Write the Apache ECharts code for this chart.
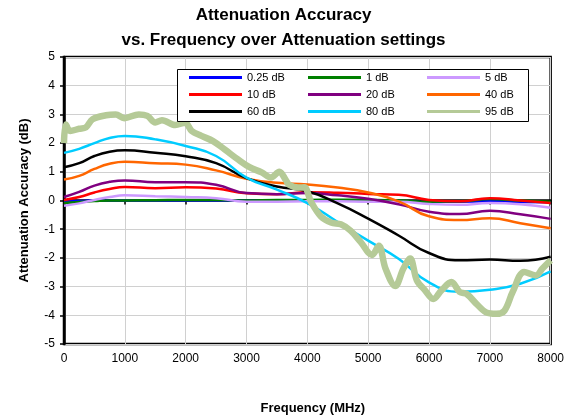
<!DOCTYPE html>
<html><head><meta charset="utf-8">
<script src="https://cdn.jsdelivr.net/npm/echarts@6/dist/echarts.min.js"></script>
<style>html,body{margin:0;padding:0;background:#fff}#c{width:567px;height:420px}</style>
</head><body><div id="c"></div>
<script>
// Frequency (MHz) for the smooth traces
const freqs = [0, 250, 500, 750, 1000, 1500, 2000, 2500, 3000, 3500, 4000, 4500, 5000, 5500, 6000, 6500, 7000, 7500, 8000];
const att025 = [-0.03, -0.02, 0, 0, 0, 0, 0, 0, 0, 0, 0, 0, -0.02, -0.04, -0.05, -0.04, -0.03, -0.05, -0.06];
const att1  = [-0.09, -0.05, -0.02, 0, 0, 0.01, 0.02, 0.02, 0.0, 0.02, 0.02, 0.03, 0.02, 0.0, -0.04, -0.03, 0.05, 0.0, -0.04];
const att5  = [-0.18, -0.1, 0.02, 0.12, 0.18, 0.15, 0.12, 0.08, -0.04, -0.04, -0.03, -0.03, -0.04, -0.04, -0.12, -0.15, -0.09, -0.13, -0.25];
const att10 = [0.02, 0.12, 0.28, 0.4, 0.47, 0.43, 0.46, 0.42, 0.25, 0.22, 0.29, 0.27, 0.23, 0.2, 0.02, -0.03, 0.08, 0.0, -0.09];
const att20 = [0.12, 0.3, 0.52, 0.65, 0.7, 0.64, 0.64, 0.55, 0.26, 0.22, 0.26, 0.18, 0.06, -0.13, -0.39, -0.47, -0.36, -0.48, -0.64];
const att40 = [0.73, 0.86, 1.1, 1.28, 1.35, 1.3, 1.25, 1.05, 0.76, 0.62, 0.56, 0.45, 0.28, -0.03, -0.55, -0.68, -0.62, -0.79, -0.97];
const att60 = [1.16, 1.3, 1.55, 1.7, 1.75, 1.66, 1.54, 1.3, 0.78, 0.49, 0.32, -0.1, -0.63, -1.22, -1.83, -2.08, -2.06, -2.1, -1.96];
const att80 = [1.66, 1.8, 2.0, 2.18, 2.25, 2.13, 1.9, 1.55, 0.8, 0.38, -0.09, -0.75, -1.4, -2.03, -2.85, -3.18, -3.11, -2.9, -2.47];
// 95 dB trace (denser, wiggly)
const freq95 = [0, 30, 100, 250, 360, 470, 690, 850, 990, 1230, 1370, 1500, 1610, 1830, 1990, 2100, 2260, 2450, 2640, 2860, 3050, 3250, 3400, 3540, 3650, 3700, 3850, 3950, 4060, 4220, 4390, 4550, 4710, 4875, 5065, 5175, 5285, 5445, 5580, 5690, 5800, 5935, 6070, 6205, 6370, 6505, 6615, 6780, 6940, 7105, 7240, 7375, 7565, 7755, 7865, 8000];
const att95 = [2.0, 2.65, 2.42, 2.5, 2.55, 2.83, 2.97, 3.0, 2.87, 3.0, 2.95, 2.72, 2.8, 2.63, 2.71, 2.42, 2.25, 2.07, 1.78, 1.43, 1.16, 0.98, 0.8, 1.0, 0.7, 0.55, 0.45, 0.46, -0.04, -0.55, -0.77, -0.83, -1.05, -1.44, -1.9, -1.58, -2.37, -2.98, -2.37, -2.02, -2.78, -3.13, -3.43, -3.13, -2.84, -3.19, -3.25, -3.6, -3.9, -3.95, -3.84, -3.19, -2.49, -2.61, -2.37, -2.08];
const seriesNames = ['0.25 dB', '1 dB', '5 dB', '10 dB', '20 dB', '40 dB', '60 dB', '80 dB', '95 dB'];
const seriesColors = ['#0000FF', '#008000', '#CC99FF', '#FF0000', '#800080', '#FF6600', '#000000', '#00CCFF', '#B5CA97'];
const seriesData = [att025, att1, att5, att10, att20, att40, att60, att80, att95];

const FONT = "'Liberation Sans', Arial, sans-serif";
const series = seriesData.map((vals, i) => {
  const xs = i === 8 ? freq95 : freqs;
  return {
    name: seriesNames[i], type: 'line', symbol: 'none', showSymbol: false,
    smooth: i === 8 ? 0.35 : true,
    data: vals.map((v, k) => [xs[k], v]),
    lineStyle: { color: seriesColors[i], width: i === 8 ? 6.5 : 2.5 },
    itemStyle: { color: seriesColors[i] },
    z: 2 + i * 0.01
  };
});
const legendCols = [[0, 3, 6], [1, 4, 7], [2, 5, 8]];
const legendLeft = [189, 308, 427];
const legends = legendCols.map((col, j) => ({
  orient: 'vertical', left: legendLeft[j], top: 71, padding: 0,
  icon: 'rect', itemWidth: 53, itemHeight: 3, itemGap: 4,
  data: col.map(i => seriesNames[i]),
  textStyle: { fontFamily: FONT, fontSize: 11, color: '#000', lineHeight: 13 },
  selectedMode: false, z: 5
}));

const chart = echarts.init(document.getElementById('c'), null, { renderer: 'canvas' });
chart.setOption({
  animation: false,
  backgroundColor: '#fff',
  title: {
    text: 'Attenuation Accuracy\nvs. Frequency over Attenuation settings',
    left: 'center', top: 3, padding: [0, 0, 0, 8],
    textStyle: { fontFamily: FONT, fontSize: 17, fontWeight: 'bold', color: '#000', lineHeight: 25 }
  },
  legend: legends,
  graphic: [{
    type: 'rect', left: 177, top: 69, z: 4,
    shape: { width: 351, height: 52 },
    style: { fill: '#fff', stroke: '#000', lineWidth: 1 }
  }],
  grid: { left: 64, right: 12, top: 57, bottom: 75, show: true, borderColor: '#000', borderWidth: 2.5, backgroundColor: 'transparent' },
  xAxis: {
    type: 'value', min: 0, max: 8000, interval: 1000,
    name: 'Frequency (MHz)', nameLocation: 'middle', nameGap: 58,
    nameTextStyle: { fontFamily: FONT, fontSize: 13, fontWeight: 'bold', color: '#000', padding: [0, 0, 0, 11] },
    axisLine: { show: true, lineStyle: { color: '#000', width: 2.5 } },
    axisTick: { show: true, length: 4, lineStyle: { color: '#000', width: 1.5 } },
    axisLabel: { fontFamily: FONT, fontSize: 12, color: '#000', margin: 9, formatter: v => String(v) },
    splitLine: { show: true, lineStyle: { color: '#D0D0D0', width: 1 } }
  },
  yAxis: {
    type: 'value', min: -5, max: 5, interval: 1,
    name: 'Attenuation Accuracy (dB)', nameLocation: 'middle', nameGap: 33,
    nameTextStyle: { fontFamily: FONT, fontSize: 13, fontWeight: 'bold', color: '#000' },
    axisLine: { show: true, lineStyle: { color: '#000', width: 2.5 } },
    axisTick: { show: true, length: 4, lineStyle: { color: '#000', width: 1.5 } },
    axisLabel: { fontFamily: FONT, fontSize: 12, color: '#000', margin: 9, formatter: v => String(v) },
    splitLine: { show: true, lineStyle: { color: '#D0D0D0', width: 1 } }
  },
  series: series
});
</script></body></html>
